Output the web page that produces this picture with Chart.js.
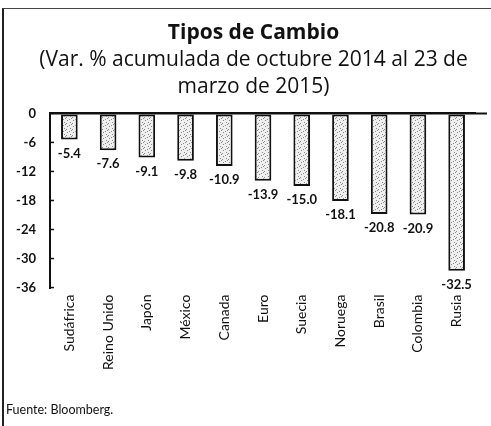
<!DOCTYPE html>
<html>
<head>
<meta charset="utf-8">
<script src="https://cdn.jsdelivr.net/npm/chart.js@4"></script>
<style>
    body { margin: 0; background: #fff; }
    #wrap { position: relative; width: 491px; height: 426px; overflow: hidden; }
    #frame { position: absolute; left: 2px; top: 8px; width: 500px; height: 430px;
             border-left: 2px solid #222; border-top: 1px solid #444; }
    #source { position: absolute; left: 6px; top: 402px; font: 12.5px Lato, sans-serif; color: #111; }
</style>
</head>
<body>
<div id="wrap">
    <div id="frame"></div>
    <canvas id="fxChart"></canvas>
    <div id="source">Fuente: Bloomberg.</div>
</div>
<script>
const categories = ['Sudáfrica', 'Reino Unido', 'Japón', 'México', 'Canada', 'Euro',
    'Suecia', 'Noruega', 'Brasil', 'Colombia', 'Rusia'];
const values = [-5.4, -7.6, -9.1, -9.8, -10.9, -13.9, -15.0, -18.1, -20.8, -20.9, -32.5];
const yTicks = [0, -6, -12, -18, -24, -30, -36];

// stippled fill like the printed bars
function stipple() {
    const c = document.createElement('canvas');
    c.width = 6;
    c.height = 6;
    const g = c.getContext('2d');
    g.fillStyle = '#efefef';
    g.fillRect(0, 0, 6, 6);
    g.fillStyle = '#8a8a8a';
    [[1, 0], [4, 2], [0, 3], [3, 5], [5, 4]].forEach(p => g.fillRect(p[0], p[1], 1, 1));
    return g.createPattern(c, 'repeat');
}

const valueLabels = {
    id: 'valueLabels',
    afterDatasetsDraw(chart) {
        const ctx = chart.ctx;
        const meta = chart.getDatasetMeta(0);
        ctx.save();
        ctx.font = 'bold 13px Lato, sans-serif';
        ctx.fillStyle = '#111';
        ctx.textAlign = 'center';
        ctx.textBaseline = 'middle';
        meta.data.forEach((bar, i) => {
            ctx.fillText(values[i].toFixed(1), bar.x, bar.y + 14);
        });
        ctx.restore();
    }
};

// small tick marks pointing into the plot, zero line runs a bit past the last bar
const innerTicks = {
    id: 'innerTicks',
    afterDraw(chart) {
        const y = chart.scales.y;
        const ctx = chart.ctx;
        ctx.save();
        ctx.strokeStyle = '#111';
        ctx.lineWidth = 1.5;
        yTicks.forEach(v => {
            const py = y.getPixelForValue(v);
            ctx.beginPath();
            ctx.moveTo(y.right, py);
            ctx.lineTo(y.right + 4, py);
            ctx.stroke();
        });
        const zero = y.getPixelForValue(0);
        ctx.lineWidth = 2;
        ctx.beginPath();
        ctx.moveTo(y.right, zero);
        ctx.lineTo(chart.width - 4, zero);
        ctx.stroke();
        ctx.restore();
    }
};

new Chart(document.getElementById('fxChart'), {
    type: 'bar',
    data: {
        labels: categories,
        datasets: [{
            data: values,
            backgroundColor: stipple(),
            borderColor: '#111',
            borderWidth: 2,
            borderSkipped: false,
            categoryPercentage: 1,
            barPercentage: 0.43
        }]
    },
    options: {
        responsive: true,
        maintainAspectRatio: false,
        animation: false,
        layout: {
            padding: { left: 16, right: 0, top: 0, bottom: 49 }
        },
        plugins: {
            legend: { display: false },
            tooltip: { enabled: false },
            title: {
                display: true,
                text: 'Tipos de Cambio',
                color: '#111',
                font: { family: 'Open Sans', size: 21, weight: 'bold' },
                padding: { top: 20, bottom: 0 }
            },
            subtitle: {
                display: true,
                text: ['(Var. % acumulada de octubre 2014 al 23 de', 'marzo de 2015)'],
                color: '#111',
                font: { family: 'Open Sans', size: 21, lineHeight: 1.29 },
                padding: { top: 1, bottom: 13 }
            }
        },
        scales: {
            x: {
                grid: { display: false, drawTicks: false },
                border: { display: false },
                ticks: {
                    autoSkip: false,
                    minRotation: 90,
                    maxRotation: 90,
                    padding: 7,
                    color: '#111',
                    font: { family: 'Lato', size: 14 }
                }
            },
            y: {
                min: -36,
                max: 0,
                afterBuildTicks(scale) {
                    scale.ticks = yTicks.map(v => ({ value: v }));
                },
                afterFit(scale) {
                    scale.width = 34;
                },
                grid: {
                    drawTicks: false,
                    lineWidth: 2,
                    color: ctx => (ctx.tick && ctx.tick.value === 0 ? '#111' : 'rgba(0,0,0,0)')
                },
                border: { color: '#111', width: 2 },
                ticks: {
                    padding: 14,
                    color: '#111',
                    font: { family: 'Lato', size: 13, weight: 'bold' }
                }
            },
            // empty right-hand axis, only keeps a gap after the last bar
            gap: {
                position: 'right',
                min: -36,
                max: 0,
                grid: { display: false, drawTicks: false },
                border: { display: false },
                ticks: { display: false },
                afterFit(scale) {
                    scale.width = 15;
                }
            }
        }
    },
    plugins: [valueLabels, innerTicks]
});
</script>
</body>
</html>
